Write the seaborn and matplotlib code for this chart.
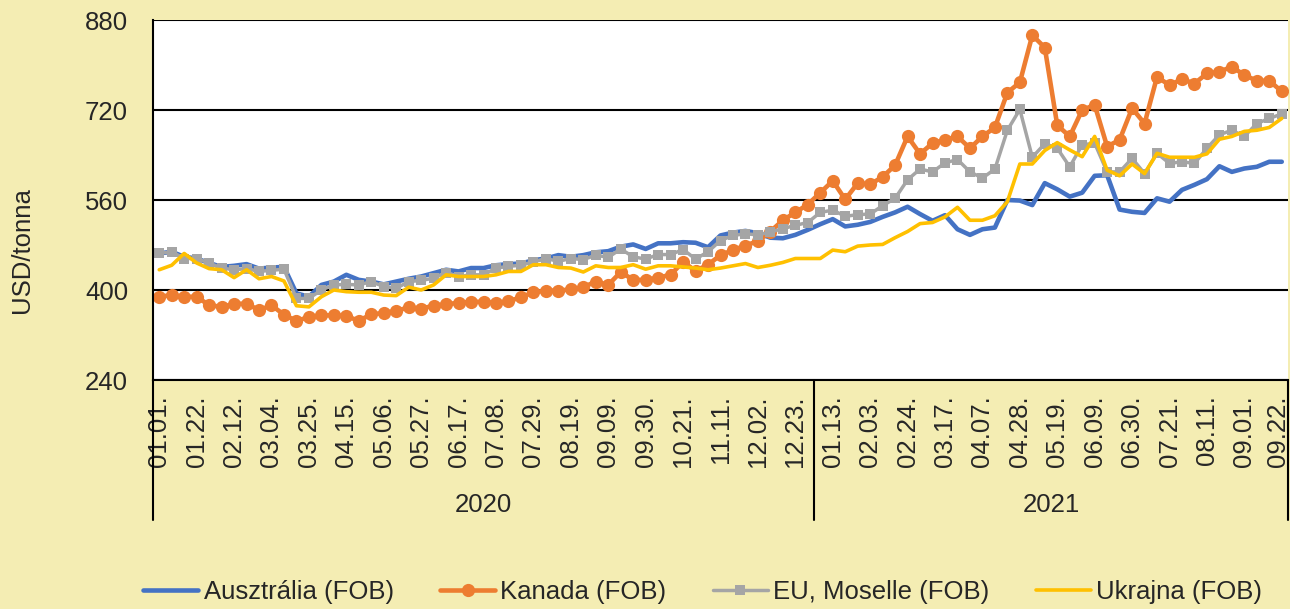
import numpy as np
import pandas as pd
import matplotlib
matplotlib.use("Agg")
import matplotlib.pyplot as plt
import matplotlib.transforms as mtransforms
import seaborn as sns

# Heti árak (USD/tonna), 2020.01.01 - 2021.09.22, 91 hét
ausztralia = [465, 468, 459, 456, 448, 441, 443, 446, 438, 440, 441,
              394, 388, 409, 415, 427, 418, 415, 410, 415, 420,
              424, 430, 436, 433, 439, 439, 444, 446, 447, 453,
              456, 462, 459, 462, 467, 469, 477, 481, 473, 483,
              483, 485, 484, 476, 497, 502, 505, 501, 493, 492,
              498, 507, 517, 526, 513, 516, 521, 530, 538, 548,
              535, 523, 533, 508, 498, 508, 511, 560, 559, 551,
              590, 579, 566, 573, 603, 604, 543, 539, 537, 563,
              557, 578, 587, 597, 620, 610, 616, 619, 628, 628]
kanada = [388, 391, 388, 388, 373, 370, 375, 376, 364, 373, 356,
          345, 352, 355, 355, 354, 345, 357, 359, 363, 369,
          367, 372, 375, 377, 379, 379, 377, 380, 387, 396,
          399, 399, 401, 405, 415, 409, 432, 418, 418, 422,
          427, 450, 434, 445, 462, 471, 479, 487, 504, 524,
          538, 552, 573, 594, 561, 590, 588, 601, 622, 673,
          642, 661, 667, 673, 652, 673, 689, 751, 769, 853,
          831, 693, 673, 720, 729, 655, 667, 723, 696, 779,
          764, 775, 767, 785, 788, 797, 782, 772, 772, 753]
eu_moselle = [465, 468, 456, 456, 448, 439, 436, 438, 433, 435, 437,
              385, 385, 400, 409, 410, 409, 415, 406, 403, 415,
              417, 421, 431, 424, 427, 427, 439, 442, 444, 450,
              456, 451, 456, 454, 462, 458, 473, 459, 455, 463,
              463, 472, 455, 468, 488, 497, 500, 498, 503, 509,
              515, 520, 538, 542, 531, 534, 535, 550, 563, 596,
              615, 610, 626, 632, 610, 599, 615, 684, 721, 636,
              660, 652, 619, 658, 661, 610, 610, 634, 607, 643,
              625, 628, 625, 652, 676, 684, 673, 696, 705, 713]
ukrajna = [436, 444, 465, 448, 438, 436, 422, 436, 420, 424, 416,
           372, 370, 388, 400, 397, 396, 396, 391, 390, 405,
           400, 409, 427, 424, 424, 424, 427, 433, 433, 445,
           445, 440, 439, 432, 443, 440, 440, 445, 437, 443,
           443, 441, 439, 436, 439, 443, 447, 440, 444, 449,
           456, 456, 456, 471, 468, 478, 480, 481, 493, 504,
           518, 520, 530, 547, 524, 524, 532, 557, 624, 624,
           648, 662, 649, 637, 673, 613, 603, 624, 607, 643,
           636, 636, 636, 642, 668, 673, 682, 684, 689, 705]

# minden harmadik hét felirata
tick_cimkek = ["01.01.", "01.22.", "02.12.", "03.04.", "03.25.", "04.15.",
               "05.06.", "05.27.", "06.17.", "07.08.", "07.29.", "08.19.",
               "09.09.", "09.30.", "10.21.", "11.11.", "12.02.", "12.23.",
               "01.13.", "02.03.", "02.24.", "03.17.", "04.07.", "04.28.",
               "05.19.", "06.09.", "06.30.", "07.21.", "08.11.", "09.01.",
               "09.22."]
evek = ["2020", "2021"]
hetek_szama = [53, 38]

df = pd.DataFrame({
    "het": np.arange(len(ausztralia)),
    "Ausztrália (FOB)": ausztralia,
    "Kanada (FOB)": kanada,
    "EU, Moselle (FOB)": eu_moselle,
    "Ukrajna (FOB)": ukrajna,
})

sns.set_style("white")
plt.rcParams["font.family"] = ["Liberation Sans", "DejaVu Sans"]

hatter = "#F4EDB3"
fig = plt.figure(figsize=(12.9, 6.09), dpi=100, facecolor=hatter)
ax = fig.add_axes([153 / 1290, 1 - 380 / 609, 1135 / 1290, 360 / 609])
ax.set_facecolor("white")

# sorozatok, Excel-szerű színekkel
sns.lineplot(data=df, x="het", y="Ausztrália (FOB)", ax=ax, color="#4472C4",
             linewidth=3.3, label="Ausztrália (FOB)")
sns.lineplot(data=df, x="het", y="Kanada (FOB)", ax=ax, color="#ED7D31",
             linewidth=3.3, marker="o", markersize=9.5, markeredgewidth=0,
             label="Kanada (FOB)")
sns.lineplot(data=df, x="het", y="EU, Moselle (FOB)", ax=ax, color="#A5A5A5",
             linewidth=2.5, marker="s", markersize=6.5, markeredgewidth=0,
             label="EU, Moselle (FOB)")
sns.lineplot(data=df, x="het", y="Ukrajna (FOB)", ax=ax, color="#FFC000",
             linewidth=2.6, label="Ukrajna (FOB)")

# y tengely
ax.set_ylim(240, 880)
ax.set_yticks([240, 400, 560, 720, 880])
ax.yaxis.grid(True, color="black", linewidth=1.5)
ax.set_axisbelow(True)
ax.tick_params(axis="y", length=6, width=1.5, color="black", pad=12,
               labelsize=18.5, direction="out")
ax.set_ylabel("")
fig.text(22 / 1290, 1 - 250 / 609, "USD/tonna", rotation=90,
         ha="center", va="center", fontsize=18.5)

# x tengely: kategóriák, évek szerint csoportosítva
ax.set_xlim(-0.5, len(ausztralia) - 0.5)
ax.set_xticks(np.arange(0, len(ausztralia), 3))
ax.set_xticklabels(tick_cimkek, rotation=90, fontsize=18.5)
ax.tick_params(axis="x", length=0, pad=11)
ax.set_xlabel("")
# az utolsó felirat kicsit beljebb, hogy ne lógjon ki
utolso = ax.get_xticklabels()[-1]
utolso.set_transform(utolso.get_transform() +
                     mtransforms.ScaledTranslation(-4 / 100, 0, fig.dpi_scale_trans))

for s in ["top", "right"]:
    ax.spines[s].set_visible(False)
for s in ["left", "bottom"]:
    ax.spines[s].set_color("black")
    ax.spines[s].set_linewidth(1.5)

trans = mtransforms.blended_transform_factory(ax.transData, ax.transAxes)
hatarok = np.concatenate([[0], np.cumsum(hetek_szama)]) - 0.5
for h in hatarok:
    ax.plot([h, h], [0, -0.39], transform=trans, color="black",
            linewidth=1.5, clip_on=False)
for ev, a, b in zip(evek, hatarok[:-1], hatarok[1:]):
    ax.text((a + b) / 2, -0.347, ev, transform=trans, ha="center",
            va="center", fontsize=18.5)

# jelmagyarázat alul
kezelok, cimkek = ax.get_legend_handles_labels()
ax.legend_.remove()
fig.legend(kezelok, cimkek, loc="center", bbox_to_anchor=(0.5446, 0.028),
           ncol=4, frameon=False, fontsize=18.5, handlelength=2.15,
           handletextpad=0.2, columnspacing=1.8, borderpad=0)

fig.savefig("out.png", dpi=100, facecolor=hatter)
